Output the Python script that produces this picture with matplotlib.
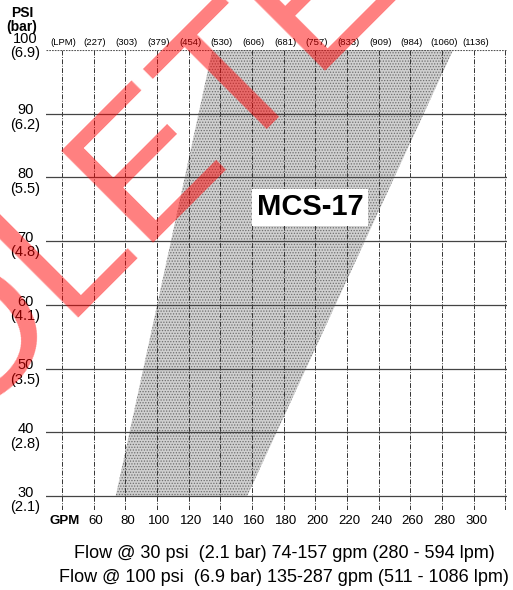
import matplotlib
matplotlib.use("Agg")
import matplotlib.pyplot as plt
from matplotlib import transforms

plt.rcParams['font.family'] = ['Liberation Sans', 'DejaVu Sans']
plt.rcParams['hatch.linewidth'] = 0.6

# Flow axis (GPM) grid positions and labels
gpm_ticks = [40, 60, 80, 100, 120, 140, 160, 180, 200, 220, 240, 260, 280, 300, 320]
gpm_labels = ["GPM", "60", "80", "100", "120", "140", "160", "180", "200",
              "220", "240", "260", "280", "300", ""]
lpm_labels = ["(LPM)", "(227)", "(303)", "(379)", "(454)", "(530)", "(606)", "(681)",
              "(757)", "(833)", "(909)", "(984)", "(1060)", "(1136)", ""]

# Pressure axis (PSI) with bar equivalents
psi_ticks = [30, 40, 50, 60, 70, 80, 90, 100]
bar_labels = ["(2.1)", "(2.8)", "(3.5)", "(4.1)", "(4.8)", "(5.5)", "(6.2)", "(6.9)"]

# Operating band for the MCS-17
band_psi = [30, 100]
band_flow_min = [74, 135]
band_flow_max = [157, 287]
model_name = "MCS-17"

notes = ["Flow @ 30 psi  (2.1 bar) 74-157 gpm (280 - 594 lpm)",
         "Flow @ 100 psi  (6.9 bar) 135-287 gpm (511 - 1086 lpm)"]

fig = plt.figure(figsize=(5.13, 5.90), dpi=100)
ax = fig.add_axes([0.0897, 0.1356, 0.8986, 0.7797])
ax.set_xlim(30, 321)
ax.set_ylim(27.8, 100)
for s in ax.spines.values():
    s.set_visible(False)
ax.set_xticks([])
ax.set_yticks([])

# shaded operating band
ax.fill_betweenx(band_psi, band_flow_min, band_flow_max,
                 facecolor='#d0d0d0', edgecolor='#6e6e6e', hatch='......',
                 linewidth=0, zorder=1)

# grid: dashed verticals, solid horizontals
for x in gpm_ticks:
    ax.plot([x, x], [27.8, 100], color='#333333', lw=0.7,
            dashes=(5, 1.5, 1, 1.5), zorder=2)
for y in psi_ticks:
    if y == 100:
        ax.plot([30, 321], [y, y], color='#555555', lw=0.8, ls=(0, (1.5, 1)), zorder=2)
    else:
        ax.plot([30, 321], [y, y], color='#444444', lw=0.9, zorder=2)

# bottom GPM labels and top LPM labels
for x, lab in zip(gpm_ticks, gpm_labels):
    if lab:
        ax.text(x + 1.5, 26.0, lab, ha='center', va='center', fontsize=9.5,
                fontweight='bold' if lab == "GPM" else 'normal')
for x, lab in zip(gpm_ticks, lpm_labels):
    if lab:
        ax.text(x + 1, 101.1, lab, ha='center', va='center', fontsize=6.8)

# left PSI / bar labels
for y, b in zip(psi_ticks, bar_labels):
    off = 4 if y == 100 else -4
    tr = transforms.offset_copy(ax.transData, fig=fig, x=0, y=off / 100 * 72, units='points')
    ax.text(17, y, f"{y}\n{b}", ha='center', va='center', fontsize=10.5,
            linespacing=1.05, transform=tr, clip_on=False)
fig.text(22 / 513, 1 - 20 / 590, "PSI\n(bar)", ha='center', va='center',
         fontsize=10, fontweight='bold', linespacing=1.0)

# model label
ax.text(196.7, 75.3, model_name, ha='center', va='center', fontsize=21,
        fontweight='bold', zorder=5,
        bbox=dict(boxstyle='square,pad=0.15', facecolor='white', edgecolor='none'))

# flow notes
fig.text(284 / 513, 1 - 553 / 590, notes[0], ha='center', va='center', fontsize=13)
fig.text(284 / 513, 1 - 577 / 590, notes[1], ha='center', va='center', fontsize=13)

# obsolete stamp
fig.text(39 / 513, 1 - 348 / 590, "OBSOLETE", ha='center', va='baseline',
         rotation=45, rotation_mode='anchor', fontsize=137, fontweight='normal',
         color='red', alpha=0.5, zorder=20)

fig.savefig("out.png", dpi=100)
